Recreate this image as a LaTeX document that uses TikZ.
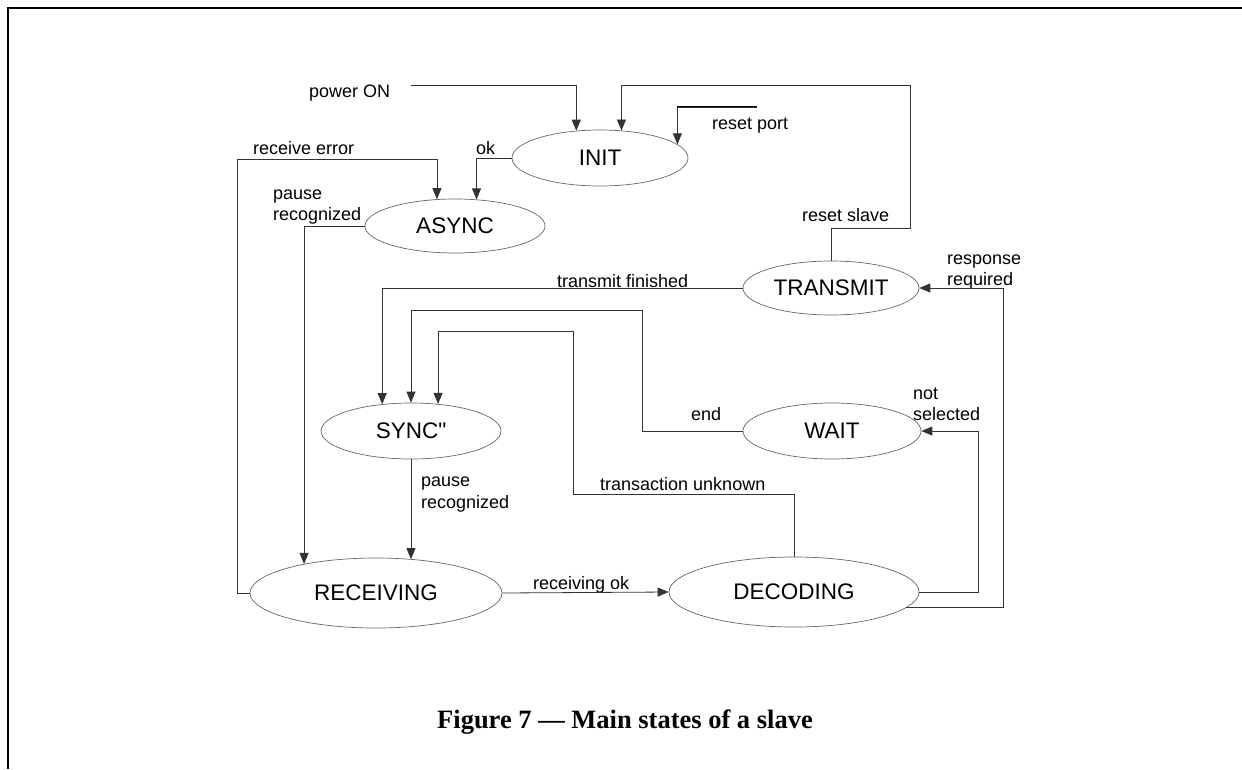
\documentclass[tikz,border=0pt]{standalone}
\usepackage{fontspec}
\setmainfont{Liberation Sans}[Ligatures=TeXOff]
\newfontfamily\capfont{Liberation Serif}
\usetikzlibrary{shapes.geometric,arrows.meta}
\begin{document}
\begin{tikzpicture}[x=1pt,y=-1pt,
  state/.style={ellipse, draw=black!60, line width=0.7pt, inner sep=0pt, font=\fontsize{22.5}{26}\selectfont},
  lbl/.style={anchor=base west, inner sep=0pt, font=\fontsize{18}{21}\selectfont},
  conn/.style={draw=black!80, line width=0.8pt},
  arr/.style={conn, -{Triangle[length=11pt,width=9pt]}},
]
\useasboundingbox (0,0) rectangle (1242,769);
% frame
\draw[line width=2.5pt] (1242,8) -- (8,8) -- (8,769);

% states
\node[state, minimum width=176pt, minimum height=56pt] (init) at (600,158) {INIT};
\node[state, minimum width=180pt, minimum height=54pt] (async) at (455,226) {ASYNC};
\node[state, minimum width=176pt, minimum height=54pt] (transmit) at (831,288) {TRANSMIT};
\node[state, minimum width=180pt, minimum height=56pt] (sync) at (411,431) {SYNC"};
\node[state, minimum width=178pt, minimum height=56pt] (wait) at (832,431) {WAIT};
\node[state, minimum width=252pt, minimum height=70pt] (receiving) at (376,593) {RECEIVING};
\node[state, minimum width=250pt, minimum height=70pt] (decoding) at (794,592) {DECODING};

% labels
\node[lbl] (lpower) at (309,97) {power ON};
\node[lbl] (lresetport) at (712,129) {reset port};
\node[lbl] (lok) at (476,154) {ok};
\node[lbl] (lrecerr) at (253,154) {receive error};
\node[lbl] (lpause1a) at (273,199) {pause};
\node[lbl] (lpause1b) at (273,220) {recognized};
\node[lbl] (lresetslave) at (802,221) {reset slave};
\node[lbl] (lresp1) at (947,264) {response};
\node[lbl] (lresp2) at (947,285) {required};
\node[lbl] (ltransfin) at (557,287) {transmit finished};
\node[lbl] (lend) at (691,420) {end};
\node[lbl] (lnot1) at (913,399) {not};
\node[lbl] (lnot2) at (913,420) {selected};
\node[lbl] (lpause2a) at (421,486) {pause};
\node[lbl] (lpause2b) at (421,508) {recognized};
\node[lbl] (ltrans) at (600,490) {transaction unknown};
\node[lbl] (lrecok) at (533,589) {receiving ok};

% bend points
\coordinate (p0) at (411,85);
\coordinate (rs1) at (910,228);
\coordinate (rs2) at (910,85);
\coordinate (rp0) at (757,107);
\coordinate (re1) at (237,159);
\coordinate (e1) at (642,310);
\coordinate (t1) at (573,494);
\coordinate (t2) at (573,331);
\coordinate (ns1) at (978,431);
\coordinate (rr1) at (1003,288);

% connectors
\draw[arr] (p0) -| (init.131.7);
\draw[arr] (transmit.north) |- (rs1) -- (rs2) -| (init.52.3);
\draw[line width=2pt] (rp0) -- (rp0 -| init.10);
\draw[arr] (rp0) -| (init.10);
\draw[arr] (init.west) -| (async.51.3);
\draw[arr] (receiving.west) -| (re1) -| (async.124.2);
\draw[arr] (async.west) -| (receiving.158.65);
\draw[arr] (transmit.west) -| (sync.137.6);
\draw[arr] (wait.west) -| (e1) -| (sync.north);
\draw[arr] (decoding.north) |- (t1) -- (t2) -| (sync.45.9);
\draw[arr] (sync.south) -- (sync.south |- receiving.43.85);
\draw[arr] (receiving.east) -- (decoding.west);
\draw[arr] (decoding.east) -| (ns1) -- (wait.east);
\draw[arr] (decoding.-8.2) -| (rr1) -- (transmit.east);

% caption
\node[anchor=base, inner sep=0pt, font=\capfont\bfseries\fontsize{26.5}{30}\selectfont] (caption) at (625,728) {Figure 7 — Main states of a slave};
\end{tikzpicture}
\end{document}
